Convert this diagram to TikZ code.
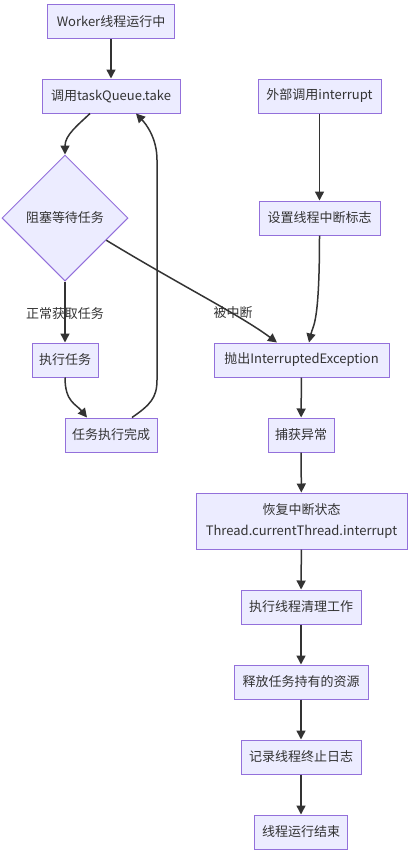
\documentclass[tikz,border=0pt]{standalone}
\usepackage{fontspec}
\setmainfont{Noto Sans CJK SC}
\usetikzlibrary{arrows.meta,shapes.geometric,calc}
\definecolor{nodefill}{HTML}{ECECFF}
\definecolor{nodeborder}{HTML}{9370DB}
\definecolor{edgecol}{HTML}{333333}
\tikzset{
  box/.style={draw=nodeborder, fill=nodefill, line width=1pt, minimum height=34pt, inner xsep=6pt, text=edgecol, font=\fontsize{13}{16}\selectfont, align=center},
  decision/.style={diamond, aspect=1, draw=nodeborder, fill=nodefill, line width=1pt, minimum width=126pt, minimum height=126pt, inner sep=0pt, text=edgecol, font=\fontsize{13}{16}\selectfont},
  flow/.style={draw=edgecol, line width=1.5pt, -{Triangle[length=9pt,width=9pt]}},
  elabel/.style={text=edgecol, font=\fontsize{13}{16}\selectfont}
}
\begin{document}
\begin{tikzpicture}[x=1pt,y=-1pt]
\useasboundingbox[fill=white] (0,0) rectangle (411,854);
\node[box, minimum width=127pt] (w) at (111,21.5) {Worker线程运行中};
\node[box, minimum width=138pt] (take) at (111,96) {调用taskQueue.take};
\node[box, minimum width=123pt] (ext) at (319.5,96) {外部调用interrupt};
\node[box, minimum width=121pt] (flag) at (319.5,218) {设置线程中断标志};
\node[decision] (d) at (65,218) {阻塞等待任务};
\node[box, minimum width=66pt] (exec) at (65,360) {执行任务};
\node[box, minimum width=175pt] (throw) at (301.5,360) {抛出InterruptedException};
\node[box, minimum width=92pt] (done) at (111,435) {任务执行完成};
\node[box, minimum width=66pt] (catch) at (301,435) {捕获异常};
\node[box, minimum width=211pt, minimum height=56pt, font=\fontsize{13}{21}\selectfont] (restore) at (301.5,521) {恢复中断状态\\Thread.currentThread.interrupt};
\node[box, minimum width=120pt] (clean) at (301,607) {执行线程清理工作};
\node[box, minimum width=134pt] (rel) at (301,682) {释放任务持有的资源};
\node[box, minimum width=120pt] (log) at (301,757) {记录线程终止日志};
\node[box, minimum width=93pt] (end) at (301,832) {线程运行结束};

\draw[flow] (w) -- (take);
\draw[flow] ([xshift=-21pt]take.south) .. controls (78,125) and (65,135) .. (d.north);
\draw[flow] (d.south) -- node[elabel, pos=0.52] {正常获取任务} (exec.north);
\coordinate (dout) at ($(d.east)!0.35!(d.south)$);
\draw[flow] (dout) .. controls (180,285) and (240,315) .. ([xshift=-24.5pt]throw.north);
\node[elabel] (lint) at (233,313) {被中断};
\draw[flow] (ext) -- (flag);
\draw[flow] (flag.south) .. controls (319.5,325) and (313,325) .. ([xshift=7.5pt]throw.north);
\draw[flow] (exec.south) .. controls (65,402) and (76,404) .. ([xshift=-24pt]done.north);
\draw[flow] ([xshift=21pt]done.north) .. controls (150,405) and (157,398) .. (157,380) -- (157,160) .. controls (157,138) and (146,124) .. ([xshift=25pt]take.south);
\draw[flow] (throw) -- (catch);
\draw[flow] (catch) -- (restore);
\draw[flow] (restore) -- (clean);
\draw[flow] (clean) -- (rel);
\draw[flow] (rel) -- (log);
\draw[flow] (log) -- (end);
\end{tikzpicture}
\end{document}
